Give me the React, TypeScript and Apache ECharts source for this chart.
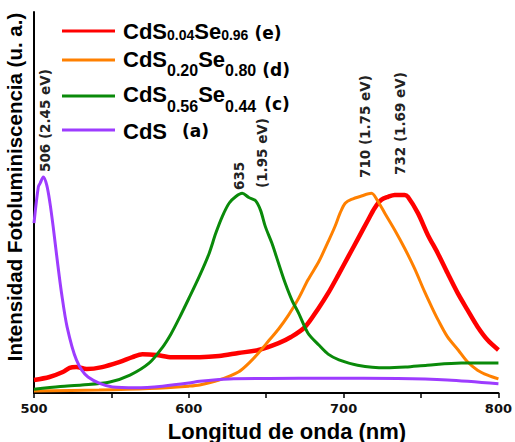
import React, { useEffect, useRef } from "react";
import * as echarts from "echarts";

// CdS0.04Se0.96 (e)
const redNm = [500, 510, 518.6, 523, 527.4, 534, 544, 555, 563.6, 570, 579, 589, 600, 607, 619.5, 632, 645, 658, 666, 675, 683.7, 690, 696.6, 703, 709.4, 715.8, 720, 724.4, 728.7, 733, 739.4, 741.5, 748, 754.4, 760.8, 767.2, 773.7, 780, 786.5, 793, 800];
const redVal = [3.4, 4.2, 5.5, 6.6, 6.8, 6.3, 6.8, 8.1, 9.4, 10.2, 10.0, 9.4, 9.4, 9.4, 9.7, 10.5, 11.3, 13.1, 14.7, 17.3, 22.2, 26.2, 31.0, 35.8, 40.6, 45.4, 48.5, 50.7, 51.5, 52.0, 52.0, 51.5, 47.2, 41.5, 36.7, 31.4, 26.2, 21.8, 17.4, 13.9, 11.3];

// CdS0.20Se0.80 (d)
const orangeNm = [500, 542, 574.5, 600, 607, 619.5, 632, 639, 645, 652, 658, 664.5, 671, 677, 684, 690, 694.4, 697.7, 701, 705, 711.5, 718, 722.3, 726.6, 733, 739.4, 745.8, 752.3, 757, 761, 767, 774, 780, 786.5, 793, 800];
const orangeVal = [0.5, 0.8, 1.2, 1.8, 2.1, 3.4, 5.5, 7.9, 10.5, 13.9, 16.8, 20.5, 24.9, 29.7, 34.5, 39.7, 43.7, 47.2, 49.8, 50.8, 51.7, 52.4, 50.2, 47.2, 42.8, 38.0, 32.7, 26.6, 22.5, 19.2, 14.8, 11.3, 8.2, 6.0, 4.7, 3.7];

// CdS0.56Se0.44 (c)
const greenNm = [500, 517, 531, 549, 562, 574.5, 583, 588.5, 594, 600, 607, 613, 617.4, 621.6, 626, 630.2, 634.5, 638.8, 643, 646.3, 649.5, 653.7, 658, 662.3, 666.6, 671, 677, 684, 690, 697, 709, 727, 740, 754, 776, 800];
const greenVal = [1.0, 1.7, 2.1, 2.9, 4.7, 7.9, 12.0, 15.5, 19.8, 24.8, 30.8, 36.5, 41.9, 46.3, 49.8, 51.5, 52.4, 51.3, 50.5, 48.0, 43.6, 39.3, 34.0, 28.8, 24.4, 20.9, 15.7, 12.6, 10.2, 8.7, 7.3, 6.6, 6.8, 7.3, 7.9, 7.9];

// CdS (a)
const purpleNm = [500, 502.8, 504, 506, 508.2, 510.3, 512.4, 515, 517.8, 521.4, 527.4, 534.9, 550.7, 566, 583, 600, 607, 626, 652, 690, 735, 767, 800];
const purpleVal = [44.6, 54.1, 55.1, 56.7, 54.6, 49.9, 43.6, 34.9, 26.2, 17.3, 8.7, 4.2, 1.6, 1.4, 1.8, 2.6, 3.1, 3.7, 3.8, 3.9, 3.8, 3.4, 2.4];

const xLabelValues = [500, 600, 700, 800];
const peakLabels = ["506 (2.45 eV)", "635", "(1.95 eV)", "710 (1.75 eV)", "732 (1.69 eV)"];
const xAxisTitle = "Longitud de onda (nm)";
const yAxisTitle = "Intensidad Fotoluminiscencia (u. a.)";

const COLORS = { red: "#ff0000", orange: "#ff8000", green: "#0a8a0a", purple: "#9d3cff" };

const zip = (a: number[], b: number[]) => a.map((v, i) => [v, b[i]]);

export default function App() {
  const ref = useRef<HTMLDivElement>(null);
  useEffect(() => {
    const chart = echarts.init(ref.current!, null, { renderer: "svg" });
    const mainFont = "'Liberation Sans', Arial, sans-serif";
    const djv = "'DejaVu Sans', sans-serif";
    const annoPos = [
      [45, 172],
      [239, 190],
      [262, 188],
      [365, 178],
      [400, 175],
    ];
    const legendLines = [
      [31, COLORS.red],
      [60, COLORS.orange],
      [96, COLORS.green],
      [130, COLORS.purple],
    ];
    // subShift / parShift: how far (px) the subscript / "(x)" centre sits below the main text centre
    const rich = (color: string, subSize: number, subShift: number, parShift: number, parGap: number) => ({
      m: { fontFamily: mainFont, fontWeight: "bold", fontSize: 22, color },
      s: { fontFamily: mainFont, fontWeight: "bold", fontSize: subSize, color, padding: [subShift * 2, 0, 0, 0] },
      p: { fontFamily: djv, fontWeight: "bold", fontSize: 17, color: "#111", padding: [parShift * 2, 0, 0, parGap] },
    });
    chart.setOption({
      animation: false,
      grid: { left: 34, right: 14, top: 12, bottom: 49 },
      xAxis: {
        type: "value",
        min: 500,
        max: 800,
        interval: 50,
        axisLine: { show: true, lineStyle: { color: "#000", width: 2 } },
        axisTick: { show: true, length: 5, lineStyle: { color: "#000", width: 1.5 } },
        axisLabel: {
          margin: 9,
          fontFamily: djv,
          fontWeight: "bold",
          fontSize: 13,
          color: "#111",
          formatter: (v: number) => (xLabelValues.includes(v) ? String(v) : ""),
        },
        splitLine: { show: false },
      },
      yAxis: {
        type: "value",
        min: 0,
        max: 100,
        axisLine: { show: true, lineStyle: { color: "#000", width: 2 } },
        axisTick: { show: false },
        axisLabel: { show: false },
        splitLine: { show: false },
      },
      series: [
        { type: "line", data: zip(redNm, redVal), color: COLORS.red, lineStyle: { width: 4.5 }, showSymbol: false, smooth: 0.3 },
        { type: "line", data: zip(orangeNm, orangeVal), color: COLORS.orange, lineStyle: { width: 3 }, showSymbol: false, smooth: 0.3 },
        { type: "line", data: zip(greenNm, greenVal), color: COLORS.green, lineStyle: { width: 3 }, showSymbol: false, smooth: 0.3 },
        { type: "line", data: zip(purpleNm, purpleVal), color: COLORS.purple, lineStyle: { width: 3 }, showSymbol: false, smooth: 0.3 },
      ],
      graphic: [
        ...legendLines.map(([y, c]) => ({
          type: "line",
          shape: { x1: 62, y1: y as number, x2: 115, y2: y as number },
          style: { stroke: c as string, lineWidth: 3 },
        })),
        {
          type: "text", x: 123, y: 31,
          style: { text: "{m|CdS}{s|0.04}{m|Se}{s|0.96}{p|(e)}", verticalAlign: "middle", rich: rich(COLORS.red, 14, 4, 1.5, 6) },
        },
        {
          type: "text", x: 123, y: 59,
          style: { text: "{m|CdS}{s|0.20}{m|Se}{s|0.80}{p|(d)}", verticalAlign: "middle", rich: rich(COLORS.orange, 16, 11.5, 11, 6) },
        },
        {
          type: "text", x: 123, y: 94.5,
          style: { text: "{m|CdS}{s|0.56}{m|Se}{s|0.44}{p|(c)}", verticalAlign: "middle", rich: rich(COLORS.green, 16, 11.5, 9.5, 8) },
        },
        {
          type: "text", x: 123, y: 131,
          style: { text: "{m|CdS}{p|(a)}", verticalAlign: "middle", rich: rich(COLORS.purple, 16, 0, 0, 15) },
        },
        ...peakLabels.map((t, i) => ({
          type: "text",
          x: annoPos[i][0],
          y: annoPos[i][1],
          rotation: Math.PI / 2,
          style: { text: t, fontFamily: djv, fontWeight: "bold", fontSize: 13.5, fill: "#222", align: "left", verticalAlign: "middle" },
        })),
        {
          type: "text", x: 287, y: 431,
          style: { text: xAxisTitle, fontFamily: mainFont, fontWeight: "bold", fontSize: 22, fill: "#000", align: "center", verticalAlign: "middle" },
        },
        {
          type: "text", x: 14, y: 187, rotation: Math.PI / 2,
          style: { text: yAxisTitle, fontFamily: mainFont, fontWeight: "bold", fontSize: 20.5, fill: "#000", align: "center", verticalAlign: "middle" },
        },
      ],
    });
    return () => chart.dispose();
  }, []);
  return <div ref={ref} style={{ position: "fixed", left: 0, top: 0, width: 515, height: 442, background: "#fff" }} />;
}
